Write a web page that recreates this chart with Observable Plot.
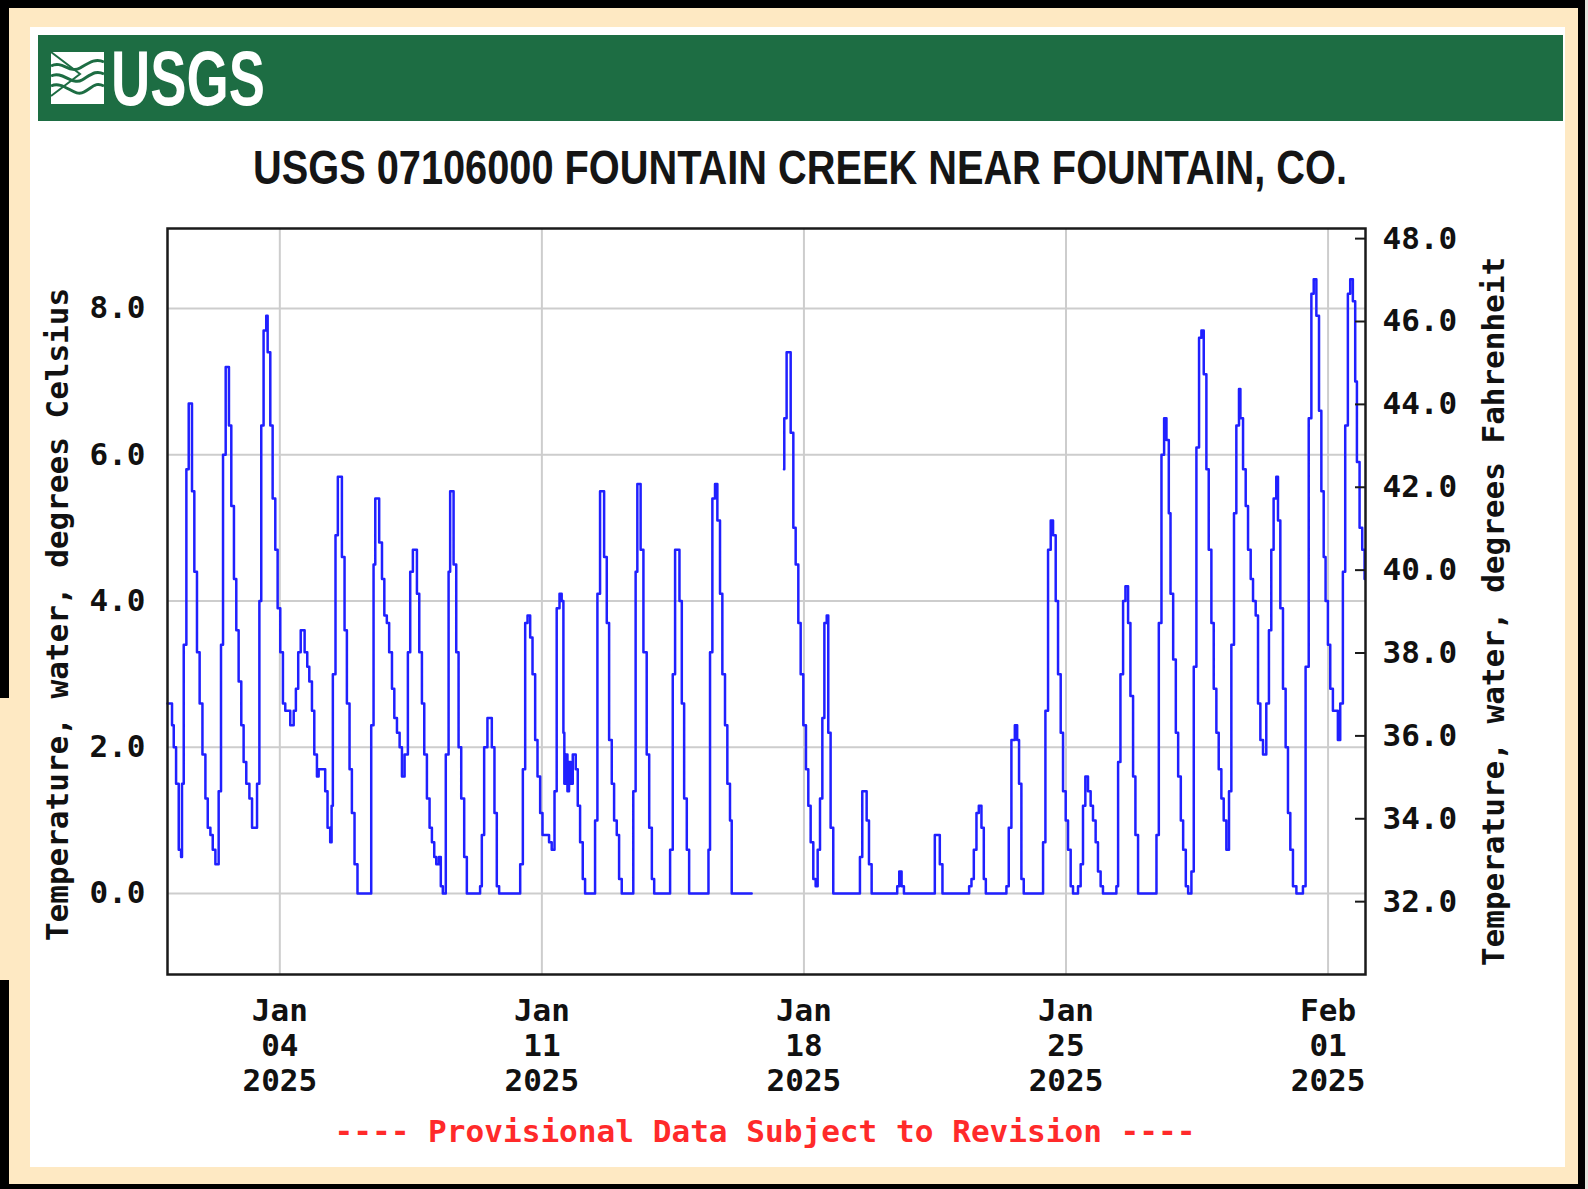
<!DOCTYPE html>
<html><head><meta charset="utf-8">
<script src="https://cdn.jsdelivr.net/npm/d3@7"></script>
<script src="https://cdn.jsdelivr.net/npm/@observablehq/plot@0.6"></script>
<style>
html,body{margin:0;padding:0;}
body{width:1588px;height:1189px;position:relative;background:#fee9c3;overflow:hidden;}
.abs{position:absolute;}
</style></head><body>
<div class="abs" style="left:0;top:0;width:1585px;height:8px;background:#000"></div>
<div class="abs" style="left:0;top:0;width:9px;height:698px;background:#000"></div>
<div class="abs" style="left:0;top:980px;width:9px;height:209px;background:#000"></div>
<div class="abs" style="left:1578px;top:0;width:7px;height:1189px;background:#000"></div>
<div class="abs" style="left:1585px;top:0;width:3px;height:1189px;background:#e4e4dc"></div>
<div class="abs" style="left:0;top:1184px;width:1585px;height:5px;background:#000"></div>
<div class="abs" style="left:30px;top:27px;width:1535px;height:1140px;background:#fff"></div>
<div class="abs" style="left:38px;top:35px;width:1525px;height:86px;background:#1d6d43"></div>
<svg class="abs" style="left:0;top:0" width="1588" height="200">
  <g>
    <rect x="51" y="52" width="53" height="52" fill="#fff"/>
    <path d="M51,66 C62,60 70,74 80,68 S96,58 104,62" fill="none" stroke="#1d6d43" stroke-width="3"/>
    <path d="M51,76 C62,70 72,86 82,80 S96,70 104,74" fill="none" stroke="#1d6d43" stroke-width="3"/>
    <path d="M51,86 C64,80 74,98 84,92 S96,82 104,86" fill="none" stroke="#1d6d43" stroke-width="3"/>
    <path d="M51,52 L80,74 L51,96" fill="none" stroke="#1d6d43" stroke-width="2"/>
  </g>
  <text x="111" y="105" font-family="Liberation Sans, Arial, sans-serif" font-weight="bold" font-size="78" fill="#fff" textLength="154" lengthAdjust="spacingAndGlyphs">USGS</text>
  <text x="800" y="184" text-anchor="middle" font-family="Liberation Sans, Arial, sans-serif" font-weight="bold" font-size="48" fill="#151515" textLength="1094" lengthAdjust="spacingAndGlyphs">USGS 07106000 FOUNTAIN CREEK NEAR FOUNTAIN, CO.</text>
</svg>
<div id="chart" class="abs" style="left:30px;top:190px"></div>
<svg class="abs" style="left:0;top:1100px" width="1588" height="60">
  <text x="765" y="42" text-anchor="middle" font-family="DejaVu Sans Mono, monospace" font-weight="bold" font-size="31" fill="#ff2a2a" textLength="861" lengthAdjust="spacingAndGlyphs">---- Provisional Data Subject to Revision ----</text>
</svg>
<script>
// Hours since 2025-01-01 00:00 and water temperature (deg C); NaN marks missing data
const hours = [
0.0,2.9,4.0,5.5,7.2,8.7,9.3,10.4,12.1,13.6,15.7,17.2,18.9,20.6,22.4,24.3,25.8,27.5,29.0,30.7,
32.8,34.3,35.6,37.3,39.4,40.9,42.6,44.1,45.6,47.3,48.8,50.5,52.5,54.2,57.4,58.9,60.1,61.6,63.3,64.2,
65.9,67.4,69.1,70.6,72.3,74.0,75.5,78.7,80.9,82.3,83.8,85.4,87.9,89.6,90.9,92.6,94.1,95.8,96.9,101.1,
102.6,104.3,105.2,106.0,107.7,109.2,111.8,113.5,115.0,116.7,118.2,119.9,121.8,130.6,132.1,133.2,135.7,137.5,139.0,140.6,
142.1,143.9,145.4,147.1,148.8,150.3,152.0,154.1,155.6,157.3,159.9,161.4,163.1,164.6,166.3,168.0,169.5,171.0,172.3,174.0,
175.2,176.5,178.4,180.2,181.2,183.4,185.1,186.6,188.3,190.2,191.9,200.4,201.5,203.0,205.1,207.9,209.6,211.1,212.6,226.1,
227.8,229.3,230.8,232.5,234.0,235.7,237.2,238.9,240.4,244.6,246.3,248.1,249.5,251.3,252.7,253.8,254.4,255.3,256.4,257.4,
258.5,259.8,261.7,263.0,264.5,266.2,267.7,274.1,275.6,277.3,279.9,281.6,283.1,284.8,286.3,288.0,289.5,291.2,298.6,300.1,
301.2,303.3,305.1,307.2,308.8,310.5,312.0,322.2,323.9,325.4,328.2,329.7,331.2,332.9,334.4,346.8,347.8,349.3,351.0,352.5,
354.2,355.7,357.4,358.9,360.6,361.7,374.5,380.0,395.2,395.4,396.9,399.5,401.2,402.7,404.4,405.9,407.6,409.3,410.8,412.3,
414.0,415.5,416.8,418.3,419.8,421.1,422.6,423.6,425.1,426.8,443.9,445.4,448.2,449.7,451.4,467.8,469.1,470.6,472.1,491.9,
495.1,496.8,513.9,515.4,516.9,518.6,520.1,521.8,523.3,524.6,537.8,539.3,541.0,543.2,544.7,545.9,547.4,548.9,561.3,562.8,
564.5,566.2,567.7,569.4,570.9,572.6,574.1,575.8,577.3,579.0,580.5,583.7,585.4,586.9,588.4,590.1,591.8,593.3,595.0,596.5,
598.2,599.7,608.3,609.4,610.9,612.6,614.1,615.8,617.3,619.0,620.5,622.2,634.0,635.5,637.2,638.9,640.4,641.9,643.0,644.7,
646.4,647.9,649.6,651.1,652.8,654.3,656.4,657.9,659.6,661.3,662.8,664.3,666.0,667.5,669.2,670.7,672.4,673.9,675.6,677.1,
678.8,680.5,682.0,683.7,685.2,686.9,687.8,689.5,691.2,692.7,694.4,695.9,697.6,699.1,700.6,702.3,704.4,706.1,707.6,709.1,
710.8,711.9,713.4,715.1,716.8,718.3,719.8,721.5,723.7,727.9,729.6,731.6,733.3,734.8,736.5,738.2,739.7,741.2,742.4,743.9,
745.4,747.1,750.3,751.8,753.5,755.0,756.7,758.2,759.9,761.4,762.5,764.2,765.9,767.4
];
const tempC = [
2.6,2.3,2.0,1.5,0.6,0.5,1.5,3.4,5.8,6.7,5.5,4.4,3.3,2.6,1.9,1.3,0.9,0.8,0.6,0.4,
1.4,3.4,6.0,7.2,6.4,5.3,4.3,3.6,2.9,2.3,1.8,1.5,1.3,0.9,1.5,4.0,6.4,7.7,7.9,7.4,
6.4,5.4,4.7,3.9,3.3,2.6,2.5,2.3,2.5,2.8,3.3,3.6,3.3,3.1,2.9,2.5,1.9,1.6,1.7,1.4,
0.9,0.7,1.2,3.0,4.9,5.7,4.6,3.6,2.6,1.7,1.1,0.4,0.0,2.3,4.5,5.4,4.8,4.3,3.8,3.7,
3.3,2.8,2.4,2.2,2.0,1.6,1.9,3.3,4.4,4.7,4.1,3.3,2.6,1.9,1.3,0.9,0.7,0.5,0.4,0.5,
0.1,0.0,1.9,4.4,5.5,4.5,3.3,2.0,1.3,0.5,0.0,0.1,0.8,2.0,2.4,2.0,1.1,0.1,0.0,0.4,
1.7,3.7,3.8,3.5,3.0,2.1,1.6,1.1,0.8,0.7,0.6,1.4,3.9,4.1,4.0,2.2,1.5,1.9,1.4,1.8,
1.5,1.9,1.7,1.2,0.7,0.2,0.0,1.0,4.1,5.5,4.6,3.7,2.1,1.5,1.0,0.8,0.2,0.0,1.4,4.4,
5.6,4.7,3.3,1.9,0.9,0.2,0.0,0.6,3.0,4.7,4.0,2.6,1.3,0.6,0.0,0.6,3.3,5.4,5.6,5.1,
4.1,3.0,2.3,1.5,1.0,0.0,0.0,NaN,5.8,6.5,7.4,6.3,5.0,4.5,3.7,3.0,2.3,1.7,1.2,0.7,
0.2,0.1,0.6,1.3,2.4,3.7,3.8,2.2,0.9,0.0,0.5,1.4,1.0,0.4,0.0,0.1,0.3,0.1,0.0,0.8,
0.4,0.0,0.1,0.2,0.6,1.1,1.2,0.9,0.2,0.0,0.1,0.9,2.1,2.3,2.1,1.5,0.2,0.0,0.7,2.5,
4.7,5.1,4.9,4.0,3.0,2.2,1.4,1.0,0.6,0.1,0.0,0.1,0.4,1.2,1.6,1.4,1.2,1.0,0.7,0.3,
0.1,0.0,0.1,1.8,3.0,4.0,4.2,3.7,2.7,1.6,0.8,0.0,0.8,3.7,6.0,6.5,6.2,5.2,4.1,3.2,
2.2,1.6,1.0,0.6,0.1,0.0,0.3,3.1,6.1,7.6,7.7,7.1,5.8,4.7,3.7,2.8,2.2,1.7,1.3,1.0,
0.6,1.4,3.4,5.2,6.4,6.9,6.5,5.8,5.3,4.7,4.3,4.0,3.8,2.6,2.1,1.9,2.6,3.6,4.7,5.4,
5.7,5.1,3.9,2.8,2.0,1.1,0.6,0.1,0.0,0.1,3.1,6.5,8.2,8.4,7.9,6.6,5.5,4.6,4.0,3.4,
2.8,2.5,2.1,2.6,4.4,6.4,8.2,8.4,8.1,7.0,5.9,5.0,4.7,4.3
];
const startUTC = Date.UTC(2025, 0, 1);
const endUTC = Date.UTC(2025, 1, 2);
const dateTicks = ["2025-01-04", "2025-01-11", "2025-01-18", "2025-01-25", "2025-02-01"];
const dateTickLabels = ["Jan\n04\n2025", "Jan\n11\n2025", "Jan\n18\n2025", "Jan\n25\n2025", "Feb\n01\n2025"];
const celsiusTicks = [0, 2, 4, 6, 8];
const fahrenheitTicks = [32, 34, 36, 38, 40, 42, 44, 46, 48];
const yTitleLeft = "Temperature, water, degrees Celsius";
const yTitleRight = "Temperature, water, degrees Fahrenheit";

const data = hours.map((h, i) => ({date: new Date(startUTC + h * 3600e3), value: tempC[i]}));
const tickDates = dateTicks.map(s => new Date(s + "T00:00:00Z"));
// position of the right-hand Fahrenheit scale, as drawn in the source graph
const fToC = f => (f - 32) * 0.5666 - 0.111;

const mono = "DejaVu Sans Mono, monospace";
const chart = Plot.plot({
  width: 1535,
  height: 920,
  marginLeft: 137,
  marginRight: 200,
  marginTop: 38,
  marginBottom: 136,
  style: {background: "transparent", fontFamily: mono, fontSize: "31px", color: "#111", overflow: "visible"},
  x: {type: "utc", domain: [new Date(startUTC), new Date(endUTC)], axis: null},
  y: {domain: [-1.107, 9.093], axis: null},
  marks: [
    Plot.ruleY(celsiusTicks, {stroke: "#cdcdcd", strokeWidth: 2}),
    Plot.ruleX(tickDates, {stroke: "#cdcdcd", strokeWidth: 2}),
    Plot.line(data, {x: "date", y: "value", curve: "step-after", stroke: "#2020ff", strokeWidth: 2.5}),
    Plot.frame({stroke: "#1a1a1a", strokeWidth: 2.5}),
    Plot.ruleY(fahrenheitTicks, {y: fToC, insetLeft: 1188, stroke: "#1a1a1a", strokeWidth: 2}),
    Plot.text(celsiusTicks, {y: d => d, text: d => d.toFixed(1), frameAnchor: "left", dx: -22, textAnchor: "end", fontWeight: "bold", fontSize: 31}),
    Plot.text(fahrenheitTicks, {y: fToC, text: d => d.toFixed(1), frameAnchor: "right", dx: 17, textAnchor: "start", fontWeight: "bold", fontSize: 31}),
    Plot.text(tickDates, {x: d => d, text: dateTickLabels, frameAnchor: "bottom", lineAnchor: "top", dy: 22, lineHeight: 1.13, fontWeight: "bold", fontSize: 31}),
    Plot.text([yTitleLeft], {text: d => d, frameAnchor: "left", dx: -109, dy: 13, rotate: -90, textAnchor: "middle", lineAnchor: "middle", fontWeight: "bold", fontSize: 31}),
    Plot.text([yTitleRight], {text: d => d, frameAnchor: "right", dx: 129, dy: 10, rotate: -90, textAnchor: "middle", lineAnchor: "middle", fontWeight: "bold", fontSize: 31})
  ]
});
document.getElementById("chart").appendChild(chart);
</script>
</body></html>
